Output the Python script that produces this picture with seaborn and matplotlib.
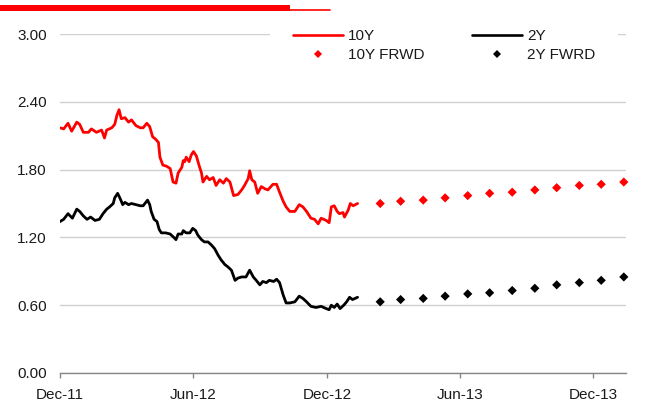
import numpy as np
import pandas as pd
import matplotlib
matplotlib.use("Agg")
import matplotlib.pyplot as plt
import matplotlib.dates as mdates
import seaborn as sns
from matplotlib.lines import Line2D
from matplotlib.patches import Rectangle

# ---------------- data ----------------
start_date = "2011-12-01"

# 10Y history: days after start, yield
ten_days = [0, 5, 11, 16, 23, 27, 32, 39, 43, 50,
            57, 61, 64, 71, 75, 78, 81, 84, 89, 94,
            98, 104, 110, 114, 119, 123, 127, 131, 135, 137,
            141, 146, 151, 155, 159, 162, 167, 169, 171, 173,
            177, 180, 183, 187, 191, 194, 196, 201, 205, 210,
            214, 219, 224, 228, 233, 238, 244, 249, 253, 258,
            260, 263, 267, 271, 276, 281, 285, 292, 297, 301,
            306, 310, 315, 322, 328, 333, 338, 344, 349, 354,
            358, 365, 369, 372, 376, 380, 383, 388, 390, 395,
            398, 402, 408]
ten_vals = [2.17, 2.16, 2.21, 2.14, 2.22, 2.20, 2.13, 2.13, 2.16, 2.13,
            2.15, 2.08, 2.15, 2.17, 2.20, 2.28, 2.33, 2.25, 2.26, 2.22,
            2.24, 2.19, 2.17, 2.17, 2.21, 2.18, 2.09, 2.07, 2.04, 1.91,
            1.84, 1.83, 1.81, 1.69, 1.68, 1.77, 1.82, 1.88, 1.87, 1.91,
            1.87, 1.93, 1.96, 1.92, 1.83, 1.77, 1.69, 1.74, 1.71, 1.73,
            1.66, 1.71, 1.68, 1.72, 1.69, 1.57, 1.58, 1.62, 1.66, 1.72,
            1.79, 1.71, 1.69, 1.59, 1.65, 1.63, 1.62, 1.67, 1.67, 1.60,
            1.52, 1.47, 1.43, 1.43, 1.49, 1.47, 1.43, 1.37, 1.36, 1.32,
            1.37, 1.35, 1.33, 1.47, 1.48, 1.43, 1.41, 1.42, 1.38, 1.44,
            1.50, 1.48, 1.50]

# 2Y history
two_days = [0, 5, 11, 17, 23, 27, 32, 37, 42, 48,
            54, 59, 64, 68, 73, 75, 79, 82, 86, 89,
            94, 98, 104, 110, 114, 120, 123, 125, 129, 133,
            136, 139, 145, 151, 156, 159, 162, 167, 169, 173,
            178, 182, 186, 189, 194, 198, 203, 208, 212, 217,
            221, 226, 230, 235, 240, 244, 249, 255, 260, 265,
            269, 274, 278, 283, 287, 293, 297, 301, 306, 310,
            315, 322, 328, 333, 338, 344, 351, 358, 365, 369,
            372, 376, 380, 384, 389, 393, 397, 401, 408]
two_vals = [1.34, 1.36, 1.41, 1.37, 1.45, 1.43, 1.39, 1.36, 1.38, 1.35,
            1.36, 1.41, 1.45, 1.47, 1.50, 1.55, 1.59, 1.55, 1.49, 1.51,
            1.49, 1.50, 1.49, 1.48, 1.48, 1.53, 1.49, 1.43, 1.36, 1.34,
            1.27, 1.24, 1.24, 1.23, 1.20, 1.18, 1.23, 1.23, 1.26, 1.24,
            1.24, 1.28, 1.26, 1.22, 1.18, 1.16, 1.16, 1.13, 1.10, 1.04,
            1.00, 0.96, 0.94, 0.91, 0.82, 0.84, 0.85, 0.85, 0.91, 0.85,
            0.82, 0.78, 0.81, 0.80, 0.82, 0.81, 0.83, 0.80, 0.69, 0.62,
            0.62, 0.63, 0.68, 0.66, 0.63, 0.59, 0.58, 0.59, 0.57, 0.56,
            0.60, 0.58, 0.61, 0.57, 0.60, 0.63, 0.67, 0.65, 0.67]

# forwards (monthly)
fwd_dates = ["2013-02-12", "2013-03-12", "2013-04-12", "2013-05-12",
             "2013-06-12", "2013-07-12", "2013-08-12", "2013-09-12",
             "2013-10-12", "2013-11-12", "2013-12-12", "2014-01-12"]
ten_fwd = [1.50, 1.52, 1.53, 1.55, 1.57, 1.59, 1.60, 1.62, 1.64, 1.66, 1.67, 1.69]
two_fwd = [0.63, 0.65, 0.66, 0.68, 0.70, 0.71, 0.73, 0.75, 0.78, 0.80, 0.82, 0.85]

tick_dates = ["2011-12-01", "2012-06-01", "2012-12-01", "2013-06-01", "2013-12-01"]
tick_labels = ["Dec-11", "Jun-12", "Dec-12", "Jun-13", "Dec-13"]
y_ticks = [0.0, 0.6, 1.2, 1.8, 2.4, 3.0]
x_end = "2014-01-15"

series_names = ["10Y", "2Y", "10Y FRWD", "2Y FWRD"]

# ---------------- build tables ----------------
t0 = pd.Timestamp(start_date)
hist = pd.concat([
    pd.DataFrame({"date": t0 + pd.to_timedelta(ten_days, unit="D"),
                  "value": ten_vals, "series": "10Y"}),
    pd.DataFrame({"date": t0 + pd.to_timedelta(two_days, unit="D"),
                  "value": two_vals, "series": "2Y"}),
], ignore_index=True)
fwd = pd.concat([
    pd.DataFrame({"date": pd.to_datetime(fwd_dates), "value": ten_fwd, "series": "10Y FRWD"}),
    pd.DataFrame({"date": pd.to_datetime(fwd_dates), "value": two_fwd, "series": "2Y FWRD"}),
], ignore_index=True)

# ---------------- style ----------------
sns.set_style("white")
plt.rcParams["font.family"] = ["Liberation Sans", "DejaVu Sans"]

W, H = 658, 404
fig = plt.figure(figsize=(W / 100, H / 100), dpi=100)
ax = fig.add_axes([60 / W, 31 / H, 566 / W, 339 / H])

sns.lineplot(data=hist, x="date", y="value", hue="series",
             palette={"10Y": "#ff0000", "2Y": "#000000"},
             linewidth=2.0, estimator=None, sort=True, legend=False, ax=ax)
sns.scatterplot(data=fwd, x="date", y="value", hue="series",
                palette={"10Y FRWD": "#ff0000", "2Y FWRD": "#000000"},
                marker="D", s=22, linewidth=0, legend=False, ax=ax, zorder=3)
for coll in ax.collections:
    coll.set_clip_on(False)

ax.set_xlim(pd.Timestamp(start_date), pd.Timestamp(x_end))
ax.set_ylim(0, 3.0)
ax.set_xticks(pd.to_datetime(tick_dates))
ax.set_xticklabels(tick_labels)
ax.set_yticks(y_ticks)
ax.set_yticklabels([f"{v:.2f}" for v in y_ticks])
ax.set_xlabel("")
ax.set_ylabel("")

ax.yaxis.grid(True, color="#d0d0d0", linewidth=1.0)
ax.xaxis.grid(False)
ax.set_axisbelow(True)
for s in ["left", "right", "top"]:
    ax.spines[s].set_visible(False)
ax.spines["bottom"].set_color("#868686")
ax.spines["bottom"].set_linewidth(1.0)

ax.tick_params(axis="x", direction="out", length=3.6, width=1, color="#868686",
               pad=7.4, labelsize=11, labelcolor="#1a1a1a", bottom=True)
ax.tick_params(axis="y", length=0, pad=9.5, labelsize=11, labelcolor="#1a1a1a")

handles = [Line2D([], [], color="#ff0000", lw=1.9),
           Line2D([], [], color="#ff0000", marker="D", ls="none", ms=4.5, mew=0),
           Line2D([], [], color="#000000", lw=1.9),
           Line2D([], [], color="#000000", marker="D", ls="none", ms=4.5, mew=0)]
labels = [series_names[0], series_names[2], series_names[1], series_names[3]]
leg = ax.legend(handles, labels, ncol=2, loc="upper left",
                bbox_to_anchor=(270 / W, 1 - 6 / H), bbox_transform=fig.transFigure,
                frameon=True, facecolor="white", edgecolor="none", fancybox=False,
                framealpha=1, fontsize=11, handlelength=3.3, handletextpad=0.3,
                columnspacing=3.1, labelspacing=0.36, borderpad=1.5, borderaxespad=0)
for t in leg.get_texts():
    t.set_color("#1a1a1a")

# header bar
fig.add_artist(Rectangle((0, 1 - 10.7 / H), 290 / W, 5.7 / H,
                         transform=fig.transFigure, color="#ff0000", lw=0, zorder=10))
fig.add_artist(Line2D([290 / W, 330 / W], [1 - 9.9 / H, 1 - 9.9 / H],
                      transform=fig.transFigure, color="#ff0000", lw=1.2, zorder=10))

fig.savefig("out.png", dpi=100)
